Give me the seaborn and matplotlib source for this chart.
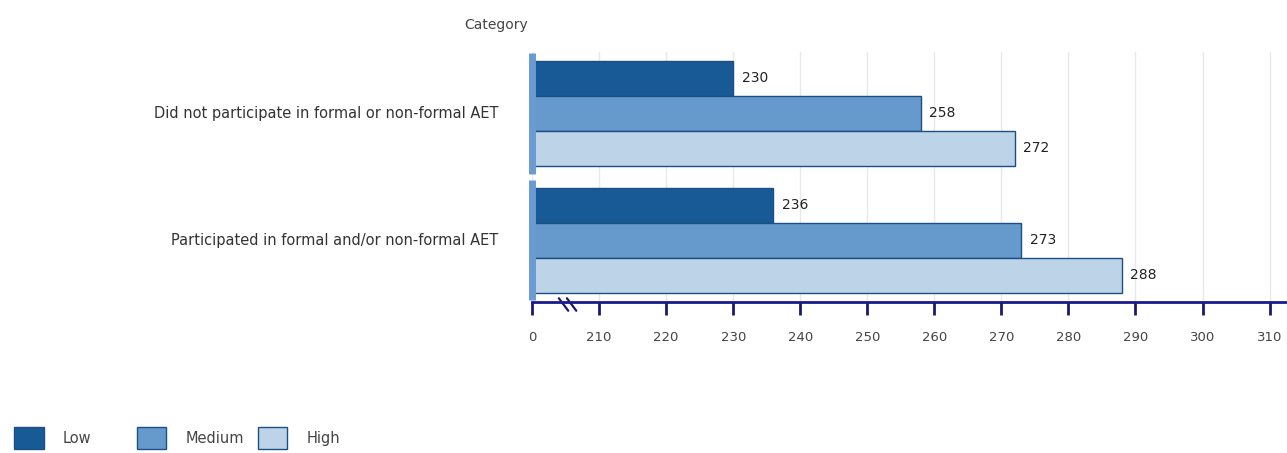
import matplotlib
matplotlib.use("Agg")
import matplotlib.pyplot as plt
import matplotlib.transforms as mtransforms
import seaborn as sns
import pandas as pd

categories = ["Did not participate in formal or non-formal AET",
              "Participated in formal and/or non-formal AET"]
levels = ["Low", "Medium", "High"]
low_vals = [230, 236]
medium_vals = [258, 273]
high_vals = [272, 288]
tick_values = [200, 210, 220, 230, 240, 250, 260, 270, 280, 290, 300, 310]
tick_labels = ["0", "210", "220", "230", "240", "250", "260", "270", "280", "290", "300", "310"]

rows = []
for i, c in enumerate(categories):
    rows.append((c, "Low", low_vals[i]))
    rows.append((c, "Medium", medium_vals[i]))
    rows.append((c, "High", high_vals[i]))
df = pd.DataFrame(rows, columns=["Category", "Level", "Value"])

palette = {"Low": "#175a96", "Medium": "#6699cc", "High": "#bcd3e8"}

sns.set_style("white")
plt.rcParams['font.family'] = ['DejaVu Sans']

fig = plt.figure(figsize=(12.87, 4.53), dpi=100)
ax = fig.add_axes([0.4134, 0.3333, 0.5866, 0.5519])

sns.barplot(data=df, y="Category", x="Value", hue="Level", hue_order=levels,
            palette=palette, orient="h", width=0.83, ax=ax,
            edgecolor="#1d4f86", linewidth=1.0, saturation=1, legend=True)

ax.set_xlim(200, 312.6)
ax.set_ylim(1.49, -0.486)
ax.set_xticks(tick_values)
ax.set_xticklabels(tick_labels, color="#444444", fontsize=9.5)
ax.set_yticks([])
ax.set_ylabel("")
ax.set_xlabel("")

ax.grid(axis="x", color="#e8e8e8", linewidth=1)
ax.set_axisbelow(True)
for s in ["top", "right", "left"]:
    ax.spines[s].set_visible(False)
ax.spines["bottom"].set_color("#1a1a8c")
ax.spines["bottom"].set_linewidth(2)
ax.tick_params(axis="x", bottom=True, direction="out", length=9, width=2,
               color="#1a1a6e", pad=12)

# left category bands
for i in range(len(categories)):
    ax.vlines(tick_values[0], i - 0.475, i + 0.475, color="#6a9bd1", linewidth=5,
              zorder=4, clip_on=False)

for cont in ax.containers:
    ax.bar_label(cont, padding=6, fontsize=10, color="#222222")

# category labels
for i, c in enumerate(categories):
    ax.text(-0.045, i, c, transform=mtransforms.blended_transform_factory(ax.transAxes, ax.transData),
            ha="right", va="center", fontsize=10.5, color="#333333")
fig.text(0.41, 0.945, "Category", ha="right", va="center", fontsize=10, color="#444444")

# axis break marks
tr = mtransforms.blended_transform_factory(ax.transData, ax.transAxes)
for x0 in [204.0, 205.2]:
    ax.plot([x0, x0 + 1.4], [0.015, -0.035], transform=tr, color="#1a1a6e",
            linewidth=1.6, clip_on=False)

h, l = ax.get_legend_handles_labels()
ax.legend_.remove()
legend_x = [0.001, 0.0963, 0.1904]
for hh, ll, lx in zip(h, l, legend_x):
    fig.legend([hh], [ll], loc="lower left", bbox_to_anchor=(lx, -0.02), frameon=False,
               fontsize=10.5, handlelength=2.0, handleheight=1.9,
               handletextpad=1.3, labelcolor="#444444")

fig.savefig("out.png", dpi=100)
